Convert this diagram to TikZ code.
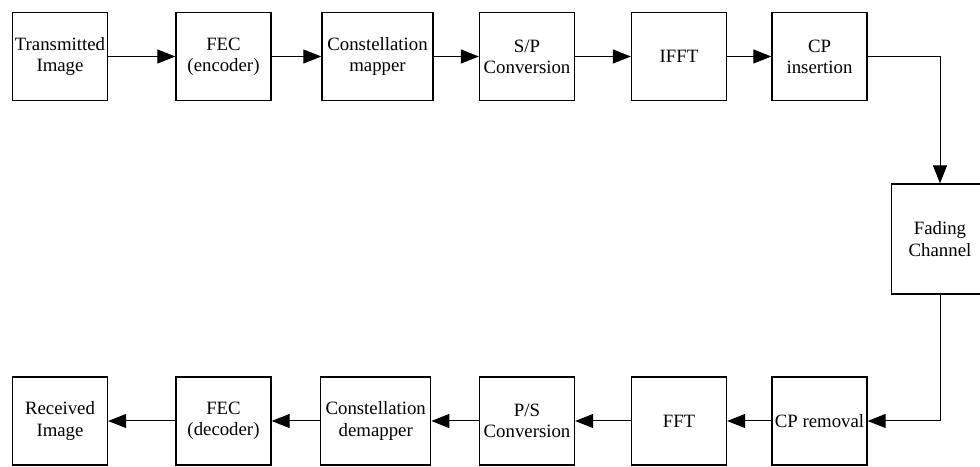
\documentclass[tikz,border=0pt]{standalone}
\usepackage{fontspec}
\setmainfont{Liberation Serif}
\usetikzlibrary{arrows.meta}

\begin{document}
\begin{tikzpicture}[x=0.5pt,y=0.5pt,
    blk/.style={draw,line width=0.65pt,minimum width=47.5pt,minimum height=44pt,
      inner sep=0pt,align=center,font=\fontsize{9.4}{10.6}\selectfont},
    arr/.style={-{Triangle[length=9pt,width=7pt]},line width=0.5pt}]
  \useasboundingbox (0,0) rectangle (980,466);
  % transmitter
  \node[blk] (tx) at (60,409.5) {Transmitted\\Image};
  \node[blk] (fecE) at (223.5,409.5) {FEC\\(encoder)};
  \node[blk,minimum width=55.5pt] (map) at (377.5,409.5) {Constellation\\mapper};
  \node[blk] (sp) at (527,409.5) {S/P\\Conversion};
  \node[blk] (ifft) at (679,409.5) {IFFT};
  \node[blk] (cpi) at (819.5,409.5) {CP\\insertion};
  % channel
  \node[blk,minimum width=48.3pt,minimum height=55pt] (chan) at (940,227) {Fading\\Channel};
  % receiver
  \node[blk] (cpr) at (819.5,45) {CP removal};
  \node[blk] (fft) at (679,45) {FFT};
  \node[blk] (ps) at (527,45) {P/S\\Conversion};
  \node[blk,minimum width=55pt] (demap) at (375.7,45) {Constellation\\demapper};
  \node[blk] (fecD) at (223.5,45) {FEC\\(decoder)};
  \node[blk] (rx) at (60,45) {Received\\Image};
  \draw[arr] (tx) -- (fecE);
  \draw[arr] (fecE) -- (map);
  \draw[arr] (map) -- (sp);
  \draw[arr] (sp) -- (ifft);
  \draw[arr] (ifft) -- (cpi);
  \draw[arr] (cpi.east) -| (chan.north);
  \draw[arr] (chan.south) |- (cpr.east);
  \draw[arr] (cpr) -- (fft);
  \draw[arr] (fft) -- (ps);
  \draw[arr] (ps) -- (demap);
  \draw[arr] (demap) -- (fecD);
  \draw[arr] (fecD) -- (rx);
\end{tikzpicture}
\end{document}
